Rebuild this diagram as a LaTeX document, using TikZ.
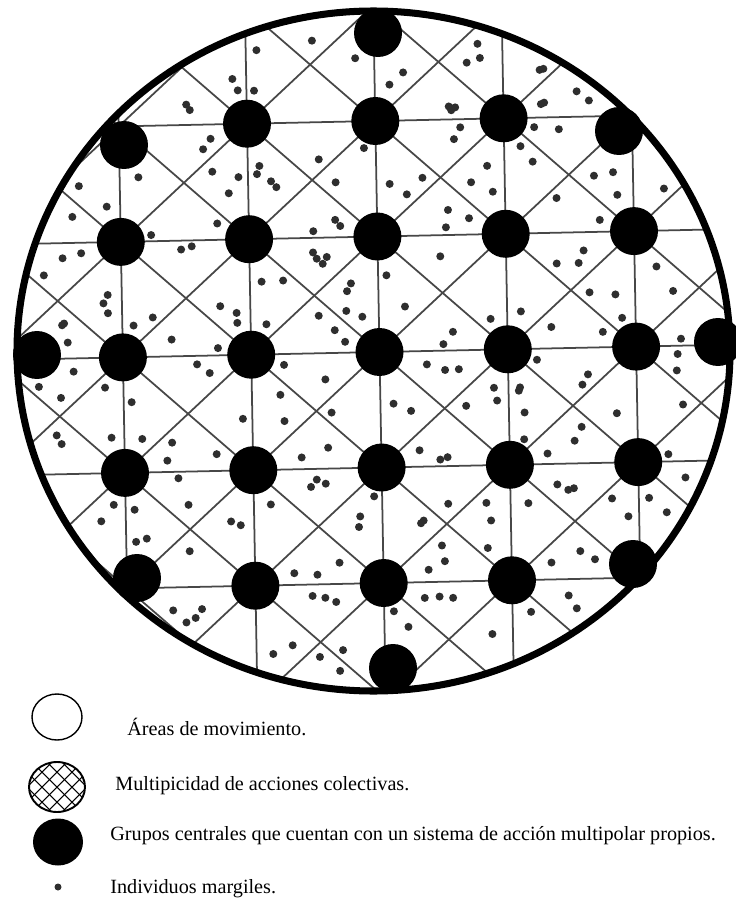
\documentclass[tikz,border=0pt]{standalone}
\usepackage{fontspec}
\setmainfont{Liberation Serif}
\begin{document}
\begin{tikzpicture}[x=0.02cm, y=-0.02cm,
    declare function={gx(\i,\j)=379.5+128.3*(\i-3)+2.1*(\j-3);
                      gy(\i,\j)=352+115.5*(\j-3)-2.7*(\i-3);},
    rejilla/.style={line width=1pt, black!72},
    grupo/.style={circle, fill=black, inner sep=0pt, minimum size=0.96cm},
    individuo/.style={fill=black!82},
    leyenda/.style={anchor=base west, inner sep=0pt, font=\fontsize{11.5}{13}\selectfont}]
  \useasboundingbox (0,0) rectangle (735,898);

  % puntos de la red
  \foreach \i in {0,...,6}{
    \foreach \j in {0,...,6}{
      \coordinate (L-\i-\j) at ({gx(\i,\j)},{gy(\i,\j)});
    }
  }

  \begin{scope}
    \clip (373.5,351) ellipse [x radius=356.5, y radius=340];
    % horizontales y verticales
    \foreach \k in {0,...,6}{
      \draw[rejilla] (L-0-\k) -- (L-6-\k);
      \draw[rejilla] (L-\k-0) -- (L-\k-6);
    }
    % diagonales de cada celda
    \foreach \i [evaluate=\i as \ii using int(\i+1)] in {0,...,5}{
      \foreach \j [evaluate=\j as \jj using int(\j+1)] in {0,...,5}{
        \draw[rejilla] (L-\i-\j) -- (L-\ii-\jj);
        \draw[rejilla] (L-\ii-\j) -- (L-\i-\jj);
      }
    }
  \end{scope}

  % individuos dentro de cada triangulo
  \pgfmathsetseed{2718}
  \foreach \i in {0,...,5}{
    \foreach \j in {0,...,5}{
      \foreach \ai/\aj/\bi/\bj in {0/0/1/0, 1/0/1/1, 1/1/0/1, 0/1/0/0}{
        \pgfmathtruncatemacro\rr{random(1,20)}
        \pgfmathtruncatemacro\nd{1+(\rr>4)+(\rr>11)+(\rr>17)}
        \foreach \k in {1,...,\nd}{
          \pgfmathsetmacro\ra{rnd}
          \pgfmathsetmacro\rb{rnd}
          \pgfmathsetmacro\ua{((\ra+\rb)>1) ? (1-\ra) : \ra}
          \pgfmathsetmacro\ub{((\ra+\rb)>1) ? (1-\rb) : \rb}
          \pgfmathsetmacro\ax{gx(\i+\ai,\j+\aj)}
          \pgfmathsetmacro\ay{gy(\i+\ai,\j+\aj)}
          \pgfmathsetmacro\bx{gx(\i+\bi,\j+\bj)}
          \pgfmathsetmacro\by{gy(\i+\bi,\j+\bj)}
          \pgfmathsetmacro\mx{gx(\i+0.5,\j+0.5)}
          \pgfmathsetmacro\my{gy(\i+0.5,\j+0.5)}
          \pgfmathsetmacro\px{(1-\ua-\ub)*(\ax)+\ua*(\bx)+\ub*(\mx)}
          \pgfmathsetmacro\py{(1-\ua-\ub)*(\ay)+\ua*(\by)+\ub*(\my)}
          \pgfmathsetmacro\qx{((\ax)+(\bx)+(\mx))/3+0.7*((\px)-((\ax)+(\bx)+(\mx))/3)}
          \pgfmathsetmacro\qy{((\ay)+(\by)+(\my))/3+0.7*((\py)-((\ay)+(\by)+(\my))/3)}
          \pgfmathsetmacro\elp{(((\qx)-373.5)/356.5)^2+(((\qy)-351)/340)^2}
          \pgfmathsetmacro\dmin{min(veclen(\qx-\ax,\qy-\ay),veclen(\qx-\bx,\qy-\by),veclen(\qx-124,\qy-145),veclen(\qx-619,\qy-131),veclen(\qx-137,\qy-578),veclen(\qx-633,\qy-564),veclen(\qx-378,\qy-33),veclen(\qx-393,\qy-668),veclen(\qx-37,\qy-355),veclen(\qx-718,\qy-342))}
          \pgfmathtruncatemacro\vale{and(\elp<0.925,\dmin>29)}
          \ifnum\vale=1 \fill[individuo] (\qx,\qy) circle (4); \fi
        }
      }
    }
  }

  % grupos centrales
  \foreach \i/\j in {2/1,3/1,4/1, 1/2,2/2,3/2,4/2,5/2, 1/3,2/3,3/3,4/3,5/3,
                     1/4,2/4,3/4,4/4,5/4, 2/5,3/5,4/5}{
    \node[grupo] (G-\i-\j) at (L-\i-\j) {};
  }
  \node[grupo] (G-arriba) at (378,33) {};
  \node[grupo] (G-abajo) at (393,668) {};
  \node[grupo] (G-izq) at (37,355) {};
  \node[grupo] (G-der) at (718,342) {};
  \node[grupo] (G-no) at (124,145) {};
  \node[grupo] (G-ne) at (619,131) {};
  \node[grupo] (G-so) at (137,578) {};
  \node[grupo] (G-se) at (633,564) {};

  % contorno
  \draw[line width=4pt] (373.5,351) ellipse [x radius=356.5, y radius=340];

  % leyenda
  \draw[line width=0.8pt] (57,717) ellipse [x radius=25, y radius=23];
  \begin{scope}
    \clip (57,787) ellipse [x radius=28, y radius=25];
    \foreach \k in {-5,...,5}{
      \draw[line width=0.6pt] (57+15*\k-40,747) -- ++(80,80);
      \draw[line width=0.6pt] (57+15*\k+40,747) -- ++(-80,80);
    }
  \end{scope}
  \draw[line width=1.1pt] (57,787) ellipse [x radius=28, y radius=25];
  \fill (58,842) ellipse [x radius=25, y radius=23.5];
  \fill[individuo] (58,887) circle (3.5);

  \node[leyenda] (t-areas) at (127,735) {Áreas de movimiento.};
  \node[leyenda] (t-multi) at (115,790) {Multipicidad de acciones colectivas.};
  \node[leyenda] (t-grupos) at (110,840) {Grupos centrales que cuentan con un sistema de acción multipolar propios.};
  \node[leyenda] (t-indiv) at (110,893) {Individuos margiles.};
\end{tikzpicture}
\end{document}
